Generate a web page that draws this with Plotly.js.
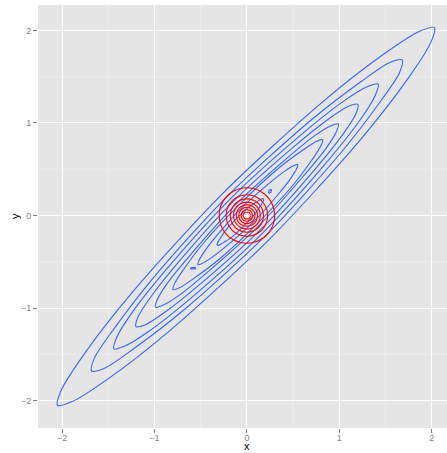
<!DOCTYPE html>
<html>
<head>
<meta charset="utf-8">
<script src="https://cdn.plot.ly/plotly-3.0.1.min.js"></script>
<style>html,body{margin:0;padding:0;background:#fff;}#chart{width:447px;height:453px;}</style>
</head>
<body>
<div id="chart"></div>
<script>
// Blue density contours, outermost first
const blue1X = [2.03, 1.87, 1.49, 0.81, -0.26, -1.24, -1.77, -2.01, -2.05, -1.89, -1.51, -0.83, 0.24, 1.22, 1.75, 1.99, 2.03];
const blue1Y = [2.03, 1.99, 1.75, 1.22, 0.24, -0.83, -1.51, -1.89, -2.05, -2.01, -1.77, -1.24, -0.26, 0.81, 1.49, 1.87, 2.03];
const blue2X = [1.68, 1.54, 1.24, 0.67, -0.21, -1.01, -1.45, -1.65, -1.68, -1.54, -1.24, -0.67, 0.21, 1.01, 1.45, 1.65, 1.68];
const blue2Y = [1.68, 1.65, 1.45, 1.01, 0.21, -0.67, -1.24, -1.54, -1.68, -1.65, -1.45, -1.01, -0.21, 0.67, 1.24, 1.54, 1.68];
const blue3X = [1.42, 1.30, 1.04, 0.56, -0.19, -0.87, -1.25, -1.41, -1.44, -1.32, -1.06, -0.58, 0.17, 0.85, 1.23, 1.39, 1.42];
const blue3Y = [1.42, 1.39, 1.23, 0.85, 0.17, -0.58, -1.06, -1.32, -1.44, -1.41, -1.25, -0.87, -0.19, 0.56, 1.04, 1.30, 1.42];
const blue4X = [1.20, 1.10, 0.88, 0.48, -0.15, -0.72, -1.04, -1.18, -1.20, -1.10, -0.88, -0.48, 0.15, 0.72, 1.04, 1.18, 1.20];
const blue4Y = [1.20, 1.18, 1.04, 0.72, 0.15, -0.48, -0.88, -1.10, -1.20, -1.18, -1.04, -0.72, -0.15, 0.48, 0.88, 1.10, 1.20];
const blue5X = [0.99, 0.91, 0.73, 0.40, -0.12, -0.59, -0.86, -0.97, -0.99, -0.91, -0.73, -0.40, 0.12, 0.59, 0.86, 0.97, 0.99];
const blue5Y = [0.99, 0.97, 0.86, 0.59, 0.12, -0.40, -0.73, -0.91, -0.99, -0.97, -0.86, -0.59, -0.12, 0.40, 0.73, 0.91, 0.99];
const blue6X = [0.82, 0.75, 0.61, 0.33, -0.09, -0.48, -0.69, -0.78, -0.80, -0.73, -0.59, -0.31, 0.11, 0.50, 0.71, 0.80, 0.82];
const blue6Y = [0.82, 0.80, 0.71, 0.50, 0.11, -0.31, -0.59, -0.73, -0.80, -0.78, -0.69, -0.48, -0.09, 0.33, 0.61, 0.75, 0.82];
const blue7X = [0.55, 0.51, 0.41, 0.23, -0.06, -0.32, -0.46, -0.52, -0.53, -0.49, -0.39, -0.21, 0.08, 0.34, 0.48, 0.54, 0.55];
const blue7Y = [0.55, 0.54, 0.48, 0.34, 0.08, -0.21, -0.39, -0.49, -0.53, -0.52, -0.46, -0.32, -0.06, 0.23, 0.41, 0.51, 0.55];
const blue8X = [0.18, 0.16, 0.11, 0.02, -0.11, -0.23, -0.29, -0.32, -0.32, -0.30, -0.25, -0.16, -0.03, 0.09, 0.15, 0.18, 0.18];
const blue8Y = [0.18, 0.18, 0.15, 0.09, -0.03, -0.16, -0.25, -0.30, -0.32, -0.32, -0.29, -0.23, -0.11, 0.02, 0.11, 0.16, 0.18];
// small closed blue islands
const islandAX = [0.235, 0.24, 0.265, 0.26, 0.235];
const islandAY = [0.24, 0.275, 0.28, 0.25, 0.24];
const islandBX = [-0.61, -0.56, -0.555, -0.605, -0.61];
const islandBY = [-0.565, -0.56, -0.575, -0.58, -0.565];

// Red density contours (concentric), outermost first
const red1X = [0.30, 0.26, 0.15, 0, -0.15, -0.26, -0.30, -0.26, -0.15, 0, 0.15, 0.26, 0.30];
const red1Y = [0, 0.15, 0.26, 0.30, 0.26, 0.15, 0, -0.15, -0.26, -0.30, -0.26, -0.15, 0];
const red2X = [0.225, 0.195, 0.113, 0, -0.113, -0.195, -0.225, -0.195, -0.113, 0, 0.113, 0.195, 0.225];
const red2Y = [0, 0.113, 0.195, 0.225, 0.195, 0.113, 0, -0.113, -0.195, -0.225, -0.195, -0.113, 0];
const red3X = [0.18, 0.156, 0.09, 0, -0.09, -0.156, -0.18, -0.156, -0.09, 0, 0.09, 0.156, 0.18];
const red3Y = [0, 0.09, 0.156, 0.18, 0.156, 0.09, 0, -0.09, -0.156, -0.18, -0.156, -0.09, 0];
const red4X = [0.145, 0.126, 0.073, 0, -0.073, -0.126, -0.145, -0.126, -0.073, 0, 0.073, 0.126, 0.145];
const red4Y = [0, 0.073, 0.126, 0.145, 0.126, 0.073, 0, -0.073, -0.126, -0.145, -0.126, -0.073, 0];
const red5X = [0.115, 0.10, 0.058, 0, -0.058, -0.10, -0.115, -0.10, -0.058, 0, 0.058, 0.10, 0.115];
const red5Y = [0, 0.058, 0.10, 0.115, 0.10, 0.058, 0, -0.058, -0.10, -0.115, -0.10, -0.058, 0];
const red6X = [0.088, 0.076, 0.044, 0, -0.044, -0.076, -0.088, -0.076, -0.044, 0, 0.044, 0.076, 0.088];
const red6Y = [0, 0.044, 0.076, 0.088, 0.076, 0.044, 0, -0.044, -0.076, -0.088, -0.076, -0.044, 0];
const red7X = [0.062, 0.054, 0.031, 0, -0.031, -0.054, -0.062, -0.054, -0.031, 0, 0.031, 0.054, 0.062];
const red7Y = [0, 0.031, 0.054, 0.062, 0.054, 0.031, 0, -0.031, -0.054, -0.062, -0.054, -0.031, 0];
const red8X = [0.045, 0.022, -0.022, -0.045, -0.022, 0.022, 0.045];
const red8Y = [0, 0.036, 0.036, 0, -0.036, -0.036, 0];

const tickVals = [-2, -1, 0, 1, 2];
const tickText = ['\u22122', '\u22121', '0', '1', '2'];
const minorVals = [-1.5, -0.5, 0.5, 1.5];

const BLUE = '#3366FF';
const RED = '#FF0000';
const FONT = 'Liberation Sans, Arial, sans-serif';

const blueSets = [[blue1X, blue1Y], [blue2X, blue2Y], [blue3X, blue3Y], [blue4X, blue4Y],
  [blue5X, blue5Y], [blue6X, blue6Y], [blue7X, blue7Y], [blue8X, blue8Y]];
const blueIslands = [[islandAX, islandAY], [islandBX, islandBY]];
const redSets = [[red1X, red1Y], [red2X, red2Y], [red3X, red3Y], [red4X, red4Y],
  [red5X, red5Y], [red6X, red6Y], [red7X, red7Y], [red8X, red8Y]];

const traces = [];
blueSets.forEach(function (p) {
  traces.push({x: p[0], y: p[1], type: 'scatter', mode: 'lines',
    line: {color: BLUE, width: 1.1, shape: 'spline', smoothing: 0.8},
    hoverinfo: 'skip', showlegend: false});
});
blueIslands.forEach(function (p) {
  traces.push({x: p[0], y: p[1], type: 'scatter', mode: 'lines',
    line: {color: BLUE, width: 1.1}, hoverinfo: 'skip', showlegend: false});
});
redSets.forEach(function (p, i) {
  traces.push({x: p[0], y: p[1], type: 'scatter', mode: 'lines',
    line: {color: RED, width: 1.1, shape: i < 7 ? 'spline' : 'linear', smoothing: 1},
    hoverinfo: 'skip', showlegend: false});
});

// minor grid lines (ggplot-style, lighter than the major ones)
const shapes = [];
minorVals.forEach(function (v) {
  shapes.push({type: 'line', xref: 'x', yref: 'paper', x0: v, x1: v, y0: 0, y1: 1,
    line: {color: '#F2F2F2', width: 0.6}, layer: 'below'});
  shapes.push({type: 'line', xref: 'paper', yref: 'y', x0: 0, x1: 1, y0: v, y1: v,
    line: {color: '#F2F2F2', width: 0.6}, layer: 'below'});
});

const axisCommon = {
  tickmode: 'array', tickvals: tickVals, ticktext: tickText,
  ticks: 'outside', ticklen: 4, tickwidth: 1, tickcolor: '#7F7F7F',
  tickfont: {family: FONT, size: 9, color: '#7F7F7F'},
  showgrid: true, gridcolor: '#FFFFFF', gridwidth: 1,
  zeroline: false, showline: false, automargin: false
};

const layout = {
  width: 447, height: 453,
  margin: {l: 38, r: 0, t: 5, b: 25},
  paper_bgcolor: '#FFFFFF', plot_bgcolor: '#E5E5E5',
  showlegend: false,
  xaxis: Object.assign({}, axisCommon, {range: [-2.26, 2.165], ticklabelstandoff: -3}),
  yaxis: Object.assign({}, axisCommon, {range: [-2.295, 2.274]}),
  shapes: shapes,
  annotations: [
    {text: 'x', xref: 'x', yref: 'paper', x: 0, y: -0.0591, xanchor: 'center', yanchor: 'bottom',
     borderpad: 0, showarrow: false, font: {family: FONT, size: 11, color: '#000000'}},
    {text: 'y', xref: 'paper', yref: 'y', x: -0.0575, y: 0, xanchor: 'center', yanchor: 'middle',
     textangle: -90, showarrow: false, font: {family: FONT, size: 11, color: '#000000'}}
  ]
};

Plotly.newPlot('chart', traces, layout, {displayModeBar: false, staticPlot: true});
</script>
</body>
</html>
